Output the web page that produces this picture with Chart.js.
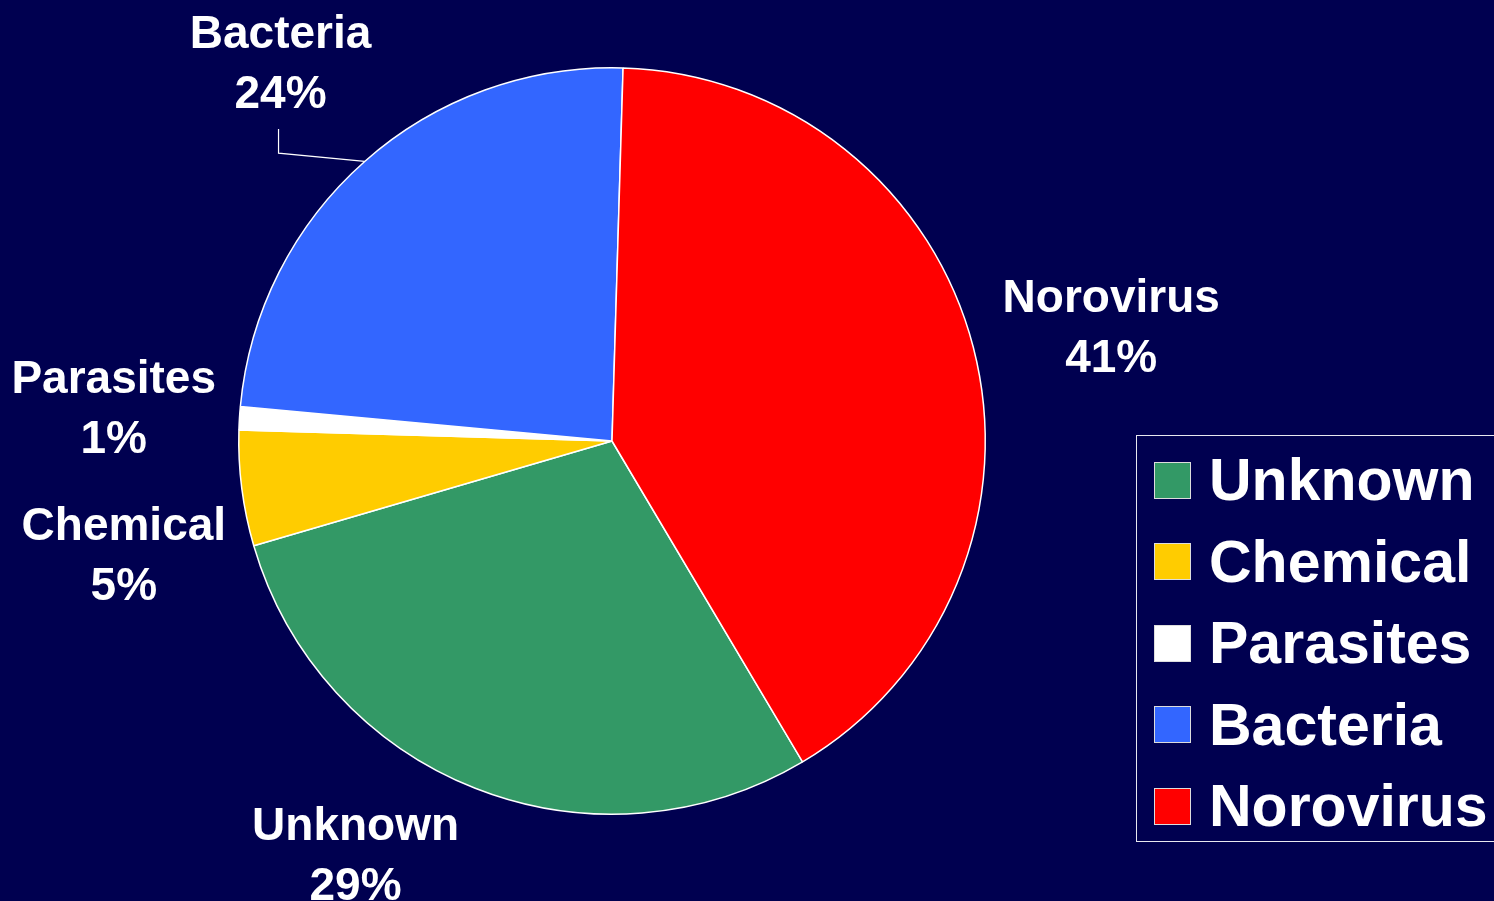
<!DOCTYPE html>
<html>
<head>
<meta charset="utf-8">
<script src="https://cdn.jsdelivr.net/npm/chart.js@4.4.1/dist/chart.umd.min.js"></script>
<style>
  html, body { margin: 0; padding: 0; background: #000050; overflow: hidden; }
  #wrap { position: absolute; left: 0; top: 0; width: 1494px; height: 901px; }
  #legend {
    position: absolute; left: 1136px; top: 435px; width: 380px; height: 407px;
    border: 1.5px solid #e8e8f0; box-sizing: border-box;
    font-family: "Liberation Sans", Arial, sans-serif; font-weight: bold; color: #fff;
  }
  .item { position: absolute; left: 17px; height: 60px; display: flex; align-items: center; }
  .swatch { width: 37px; height: 37px; border: 1px solid #ddd; box-sizing: border-box; margin-right: 18px; }
  .item span { font-size: 59px; line-height: 60px; }
</style>
</head>
<body>
<div id="wrap"><canvas id="pieChart"></canvas></div>
<div id="legend"></div>
<script>
// Outbreak causes, in the order they appear clockwise (and in the legend)
const categories = ['Unknown', 'Chemical', 'Parasites', 'Bacteria', 'Norovirus'];
const shares = [29, 5, 1, 24, 41];
const sliceColors = ['#339966', '#FFCC00', '#FFFFFF', '#3366FF', '#FF0000'];

// Label nudges away from the default spot (mid-angle, just outside the pie)
const labelNudge = [[-72, -52], [11, 52], [4, 0], [2, 1], [12, 14]];

// Plugin to draw the outside labels (name + percent), with a leader line for Bacteria
const outsideLabels = {
    id: 'outsideLabels',
    afterDatasetsDraw(chart) {
        const ctx = chart.ctx;
        const meta = chart.getDatasetMeta(0);
        ctx.save();
        ctx.fillStyle = '#fff';
        ctx.font = 'bold 46px "Liberation Sans", Arial, sans-serif';
        ctx.textAlign = 'center';
        ctx.textBaseline = 'middle';
        meta.data.forEach((arc, i) => {
            const mid = (arc.startAngle + arc.endAngle) / 2;
            const dist = arc.outerRadius + 130;
            const x = arc.x + Math.cos(mid) * dist + labelNudge[i][0];
            const y = arc.y + Math.sin(mid) * dist + labelNudge[i][1];
            ctx.fillText(categories[i], x, y - 30);
            ctx.fillText(shares[i] + '%', x, y + 30);
            if (categories[i] === 'Bacteria') {
                ctx.strokeStyle = '#fff';
                ctx.lineWidth = 1.2;
                ctx.beginPath();
                ctx.moveTo(x - 2, y + 64);
                ctx.lineTo(x - 2, y + 88);
                ctx.lineTo(arc.x + Math.cos(mid) * arc.outerRadius, arc.y + Math.sin(mid) * arc.outerRadius);
                ctx.stroke();
            }
        });
        ctx.restore();
    }
};

const ctx = document.getElementById('pieChart').getContext('2d');
new Chart(ctx, {
    type: 'pie',
    data: {
        labels: categories,
        datasets: [{
            data: shares,
            backgroundColor: sliceColors,
            borderColor: '#ffffff',
            borderWidth: 1.5
        }]
    },
    options: {
        responsive: true,
        maintainAspectRatio: false,
        animation: false,
        rotation: 149.3,
        layout: { padding: { left: 238, top: 67, right: 508, bottom: 86 } },
        plugins: {
            legend: { display: false },
            tooltip: { enabled: false }
        }
    },
    plugins: [outsideLabels]
});

// HTML legend built from the same arrays
const legend = document.getElementById('legend');
categories.forEach((name, i) => {
    const item = document.createElement('div');
    item.className = 'item';
    item.style.top = (14 + i * 81.5) + 'px';
    item.innerHTML = '<div class="swatch" style="background:' + sliceColors[i] + '"></div><span>' + name + '</span>';
    legend.appendChild(item);
});
</script>
</body>
</html>
